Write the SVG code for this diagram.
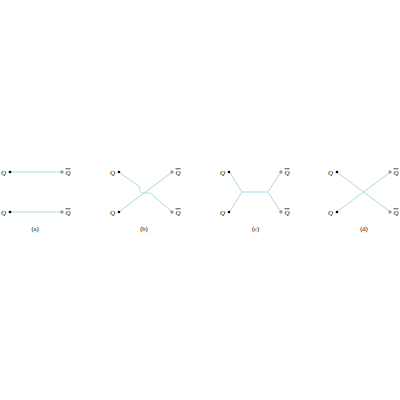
<svg xmlns="http://www.w3.org/2000/svg" width="400" height="400" viewBox="0 0 400 400">
<style>
.ln{fill:none;stroke:#add8e6;stroke-width:1}
.q{fill:#000;stroke:none}
.qb{fill:#fff;stroke:#000;stroke-width:0.5}
.t{font-family:"Liberation Serif",serif;font-style:italic;font-size:7px;fill:#000}
.o{text-decoration:overline}
.cap{font-family:"Liberation Serif",serif;font-size:6.5px;fill:#000;text-anchor:middle}
.e{text-anchor:end}
</style>
<rect width="400" height="400" fill="#fff"/>
<g id="connectors">
<line class="ln" x1="11" y1="172" x2="61" y2="172"/>
<line class="ln" x1="11" y1="212" x2="61" y2="212"/>
<line class="ln" x1="120" y1="211" x2="171" y2="173"/>
<path class="ln" d="M120,173 L140,187 C138.5,191 141,194 145,193 L150,193 L171,211"/>
<path class="ln" d="M230,173 L242,192 L230,211 M242,192 L268,192 L280,173 M268,192 L280,211"/>
<line class="ln" x1="338" y1="173" x2="389" y2="211"/>
<line class="ln" x1="338" y1="211" x2="389" y2="173"/>
</g>
<g id="a">
<circle class="q" cx="10" cy="172" r="1.3"/><text class="t e" x="6" y="174.5">Q</text>
<circle class="qb" cx="62" cy="172" r="1.2"/><text class="t o" x="65.5" y="174.5">Q</text>
<circle class="q" cx="10" cy="212" r="1.3"/><text class="t e" x="6" y="214.5">Q</text>
<circle class="qb" cx="62" cy="212" r="1.2"/><text class="t o" x="65.5" y="214.5">Q</text>
<text class="cap" x="35" y="231">(a)</text>
</g>
<g id="b">
<circle class="q" cx="119" cy="172" r="1.3"/><text class="t e" x="115" y="174.5">Q</text>
<circle class="qb" cx="172" cy="172" r="1.2"/><text class="t o" x="175.5" y="174.5">Q</text>
<circle class="q" cx="119" cy="212" r="1.3"/><text class="t e" x="115" y="214.5">Q</text>
<circle class="qb" cx="172" cy="212" r="1.2"/><text class="t o" x="175.5" y="214.5">Q</text>
<text class="cap" x="144" y="231">(b)</text>
</g>
<g id="c">
<circle class="q" cx="229" cy="172" r="1.3"/><text class="t e" x="225" y="174.5">Q</text>
<circle class="qb" cx="281" cy="172" r="1.2"/><text class="t o" x="284.5" y="174.5">Q</text>
<circle class="q" cx="229" cy="212" r="1.3"/><text class="t e" x="225" y="214.5">Q</text>
<circle class="qb" cx="281" cy="212" r="1.2"/><text class="t o" x="284.5" y="214.5">Q</text>
<text class="cap" x="255.5" y="231">(c)</text>
</g>
<g id="d">
<circle class="q" cx="337" cy="172" r="1.3"/><text class="t e" x="333" y="174.5">Q</text>
<circle class="qb" cx="390" cy="172" r="1.2"/><text class="t o" x="393.5" y="174.5">Q</text>
<circle class="q" cx="337" cy="212" r="1.3"/><text class="t e" x="333" y="214.5">Q</text>
<circle class="qb" cx="390" cy="212" r="1.2"/><text class="t o" x="393.5" y="214.5">Q</text>
<text class="cap" x="364" y="231">(d)</text>
</g>
</svg>
